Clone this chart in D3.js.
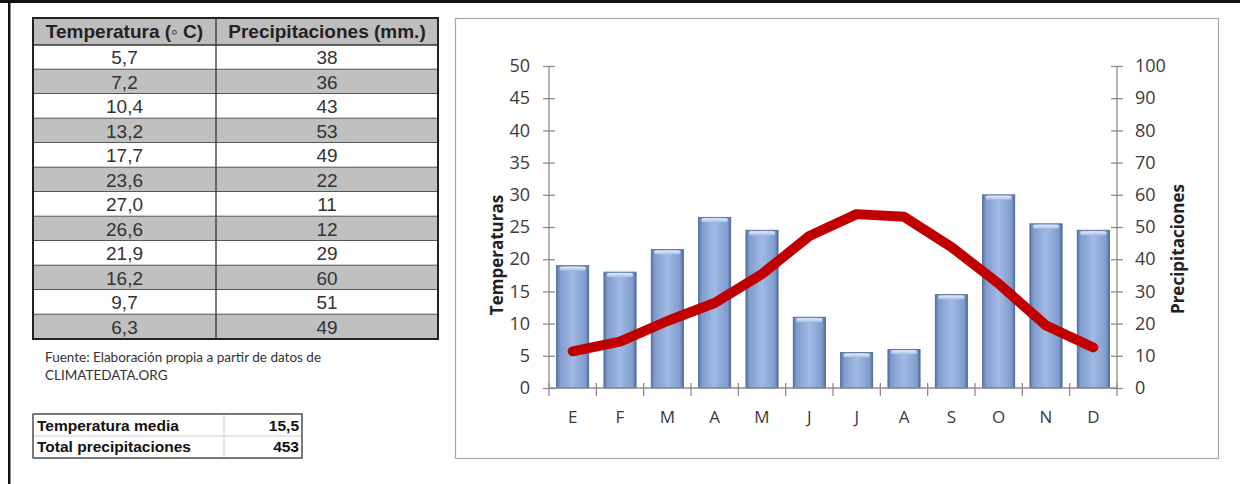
<!DOCTYPE html>
<html>
<head>
<meta charset="utf-8">
<script src="https://d3js.org/d3.v7.min.js"></script>
<style>
  body { margin: 0; background: #fff; }
  svg { display: block; }
</style>
</head>
<body>
<div id="chart"></div>
<script>
// datos climaticos
var months = ["E", "F", "M", "A", "M", "J", "J", "A", "S", "O", "N", "D"];
var temps = [5.7, 7.2, 10.4, 13.2, 17.7, 23.6, 27.0, 26.6, 21.9, 16.2, 9.7, 6.3];
var precip = [38, 36, 43, 53, 49, 22, 11, 12, 29, 60, 51, 49];
var tempTicks = [0, 5, 10, 15, 20, 25, 30, 35, 40, 45, 50];
var precipTicks = [0, 10, 20, 30, 40, 50, 60, 70, 80, 90, 100];
var headers = ["Temperatura (\u25E6 C)", "Precipitaciones (mm.)"];

var es = d3.formatLocale({decimal: ",", thousands: ".", grouping: [3], currency: ["", ""]});
var f1 = es.format(".1f");

var W = 1240, H = 484;
var svg = d3.select("#chart").append("svg").attr("width", W).attr("height", H);

// marco exterior
svg.append("rect").attr("x", 0).attr("y", 0).attr("width", W).attr("height", 3).attr("fill", "#111");
svg.append("rect").attr("x", 8).attr("y", 0).attr("width", 2.5).attr("height", H).attr("fill", "#111");

// ---- tabla de datos ----
var tx = 33, tw = 405, col = 216, hy = 18, hh = 27, rh = 24.5;
var tbl = svg.append("g").style("font-family", "'Liberation Sans', Arial, sans-serif");
tbl.append("rect").attr("x", tx).attr("y", hy).attr("width", tw).attr("height", hh).attr("fill", "#bdbdbd");
var rows = tbl.selectAll("g.row").data(temps).enter().append("g").attr("class", "row")
  .attr("transform", function(d, i) { return "translate(0," + (hy + hh + i * rh) + ")"; });
rows.append("rect").attr("x", tx).attr("width", tw).attr("height", rh)
  .attr("fill", function(d, i) { return i % 2 ? "#c0c0c0" : "#fff"; });
rows.append("line").attr("x1", tx).attr("x2", tx + tw).attr("y1", rh).attr("y2", rh)
  .attr("stroke", "#333").attr("stroke-width", 1.3);
rows.append("text").attr("x", (tx + col) / 2).attr("y", rh / 2 + 7).attr("text-anchor", "middle")
  .attr("font-size", 19).attr("fill", "#333").text(function(d) { return f1(d); });
rows.append("text").attr("x", (col + tx + tw) / 2).attr("y", rh / 2 + 7).attr("text-anchor", "middle")
  .attr("font-size", 19).attr("fill", "#333").text(function(d, i) { return precip[i]; });
tbl.append("line").attr("x1", tx).attr("x2", tx + tw).attr("y1", hy + hh).attr("y2", hy + hh)
  .attr("stroke", "#333").attr("stroke-width", 1.3);
tbl.append("line").attr("x1", col).attr("x2", col).attr("y1", hy).attr("y2", hy + hh + 12 * rh)
  .attr("stroke", "#333").attr("stroke-width", 1.3);
tbl.append("rect").attr("x", tx).attr("y", hy).attr("width", tw).attr("height", hh + 12 * rh)
  .attr("fill", "none").attr("stroke", "#222").attr("stroke-width", 2);
tbl.selectAll("text.h").data(headers).enter().append("text").attr("class", "h")
  .attr("x", function(d, i) { return i ? (col + tx + tw) / 2 : (tx + col) / 2; })
  .attr("y", hy + 20).attr("text-anchor", "middle").attr("font-size", 19).attr("font-weight", "bold")
  .attr("fill", "#222").text(function(d) { return d; });

var note = svg.append("g").style("font-family", "Lato, 'Open Sans', sans-serif").attr("font-size", 13.5).attr("fill", "#333");
note.append("text").attr("x", 45).attr("y", 362).text("Fuente:  Elaboración propia a partir de datos de");
note.append("text").attr("x", 45).attr("y", 380).text("CLIMATEDATA.ORG");

// resumen
var resumen = [["Temperatura media", f1(d3.mean(temps))], ["Total precipitaciones", d3.sum(precip)]];
var rs = svg.append("g").style("font-family", "'Liberation Sans', Arial, sans-serif");
rs.append("line").attr("x1", 33).attr("x2", 302).attr("y1", 436).attr("y2", 436).attr("stroke", "#ccc");
rs.append("line").attr("x1", 224).attr("x2", 224).attr("y1", 414).attr("y2", 458).attr("stroke", "#ccc");
rs.append("rect").attr("x", 33).attr("y", 414).attr("width", 269).attr("height", 44)
  .attr("fill", "none").attr("stroke", "#333").attr("stroke-width", 1.3);
resumen.forEach(function(r, i) {
  rs.append("text").attr("x", 37).attr("y", 431 + i * 21).attr("font-size", 15.5).attr("font-weight", "bold").attr("fill", "#111").text(r[0]);
  rs.append("text").attr("x", 299).attr("y", 431 + i * 21).attr("text-anchor", "end").attr("font-size", 15.5).attr("font-weight", "bold").attr("fill", "#111").text(r[1]);
});

// ---- climograma ----
svg.append("rect").attr("x", 455.5).attr("y", 18.5).attr("width", 763).attr("height", 440)
  .attr("fill", "#fff").attr("stroke", "#a6a6a6").attr("stroke-width", 1.2);

var pLeft = 549, pRight = 1117, pTop = 66, pBottom = 388;
var x = d3.scaleBand().domain(d3.range(12)).range([pLeft, pRight]).paddingInner(0.32).paddingOuter(0.16);
var yT = d3.scaleLinear().domain([0, 50]).range([pBottom, pTop]);
var yP = d3.scaleLinear().domain([0, 100]).range([pBottom, pTop]);

var defs = svg.append("defs");
var g1 = defs.append("linearGradient").attr("id", "barGrad").attr("x1", 0).attr("x2", 1).attr("y1", 0).attr("y2", 0);
[[0, "#56729f"], [0.1, "#7f9bcd"], [0.5, "#a2bae4"], [0.9, "#7f9bcd"], [1, "#4f6a98"]].forEach(function(s) {
  g1.append("stop").attr("offset", s[0]).attr("stop-color", s[1]);
});
var g2 = defs.append("linearGradient").attr("id", "capGrad").attr("x1", 0).attr("x2", 0).attr("y1", 0).attr("y2", 1);
[[0, "#e4edf9"], [1, "#a4bce4"]].forEach(function(s) {
  g2.append("stop").attr("offset", s[0]).attr("stop-color", s[1]);
});

var bars = svg.append("g").selectAll("g").data(precip).enter().append("g");
bars.append("rect").attr("x", function(d, i) { return x(i); }).attr("y", function(d) { return yP(d); })
  .attr("width", x.bandwidth()).attr("height", function(d) { return pBottom - yP(d); })
  .attr("fill", "url(#barGrad)").attr("stroke", "#4d6794").attr("stroke-width", 0.8);
bars.append("rect").attr("x", function(d, i) { return x(i) + 3; }).attr("y", function(d) { return yP(d) + 1; })
  .attr("width", x.bandwidth() - 6).attr("height", 4).attr("rx", 2)
  .attr("fill", "url(#capGrad)");

// ejes
var axisColor = "#8c8c8c";
var axL = svg.append("g").attr("transform", "translate(" + pLeft + ",0)")
  .call(d3.axisLeft(yT).tickValues(tempTicks).tickSize(6).tickPadding(13));
var axR = svg.append("g").attr("transform", "translate(" + pRight + ",0)")
  .call(d3.axisRight(yP).tickValues(precipTicks).tickSize(6).tickPadding(12));
[axL, axR].forEach(function(ax) {
  ax.select(".domain").attr("stroke", axisColor).attr("stroke-width", 1.3).attr("d", "M0," + pTop + "V" + pBottom);
  ax.selectAll(".tick line").attr("stroke", axisColor).attr("stroke-width", 1.3)
    .attr("x1", -6).attr("x2", 6);
  ax.selectAll(".tick text").attr("fill", "#3a3a3a")
    .style("font-family", "'Open Sans', Lato, sans-serif").style("font-size", "18px");
});

var xb = svg.append("g").attr("transform", "translate(0," + pBottom + ")");
xb.append("line").attr("x1", pLeft).attr("x2", pRight).attr("stroke", axisColor).attr("stroke-width", 1.3);
xb.selectAll("line.t").data(d3.range(13)).enter().append("line").attr("class", "t")
  .attr("x1", function(d) { return pLeft + d * (pRight - pLeft) / 12; })
  .attr("x2", function(d) { return pLeft + d * (pRight - pLeft) / 12; })
  .attr("y1", -5).attr("y2", 8).attr("stroke", axisColor).attr("stroke-width", 1.3);
xb.selectAll("text").data(months).enter().append("text")
  .attr("x", function(d, i) { return x(i) + x.bandwidth() / 2; }).attr("y", 35)
  .attr("text-anchor", "middle").attr("fill", "#3a3a3a")
  .style("font-family", "'Open Sans', Lato, sans-serif").style("font-size", "17px")
  .text(function(d) { return d; });

// linea de temperaturas
var line = d3.line().x(function(d, i) { return x(i) + x.bandwidth() / 2; }).y(function(d) { return yT(d); });
svg.append("path").datum(temps).attr("d", line).attr("fill", "none")
  .attr("stroke", "#c00000").attr("stroke-width", 10)
  .attr("stroke-linejoin", "round").attr("stroke-linecap", "round");

// titulos de ejes
svg.append("text").attr("transform", "translate(503,255) rotate(-90)").attr("text-anchor", "middle")
  .style("font-family", "'Open Sans', Lato, sans-serif").style("font-size", "17px").style("font-weight", "bold")
  .attr("fill", "#222").text("Temperaturas");
svg.append("text").attr("transform", "translate(1184,249) rotate(-90)").attr("text-anchor", "middle")
  .style("font-family", "'Open Sans', Lato, sans-serif").style("font-size", "17px").style("font-weight", "bold")
  .attr("fill", "#222").text("Precipitaciones");
</script>
</body>
</html>
